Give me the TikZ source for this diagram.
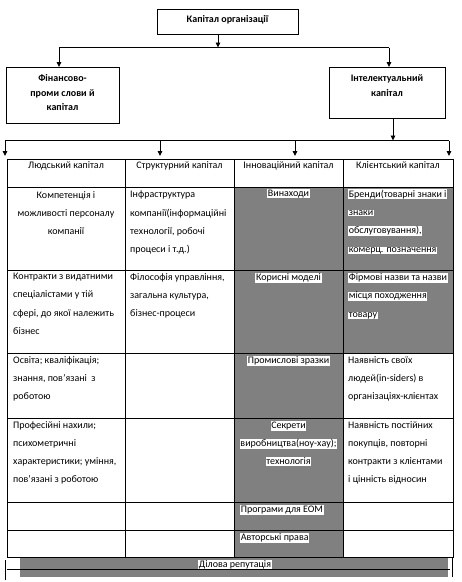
\documentclass[tikz,border=0pt]{standalone}
\usepackage{fontspec}
\setmainfont{Carlito}
\usetikzlibrary{arrows.meta}
\definecolor{cellgrey}{RGB}{128,128,128}
\newcommand{\hlw}[1]{{\setlength{\fboxsep}{0.6pt}\colorbox{white}{#1}}}
\begin{document}
\begin{tikzpicture}[x=1pt,y=-1pt,
  box/.style={draw,line width=0.9pt,inner sep=0,anchor=north west},
  arr/.style={line width=0.9pt,-{Triangle[width=4.5pt,length=5pt]}},
  ln/.style={line width=0.9pt},
  grid/.style={line width=1pt},
  txt/.style={inner sep=0,font=\fontsize{10}{18.3}\selectfont,text=black},
  txtl/.style={txt,anchor=north west,align=left},
  txtc/.style={txt,anchor=north,align=center},
  ttl/.style={inner sep=0,anchor=north,align=center,font=\fontsize{10}{14.5}\selectfont\bfseries},
]
\useasboundingbox (0,0) rectangle (462,582);

% top boxes
\node[box,minimum width=141pt,minimum height=25pt] (top) at (157,9) {};
\node[ttl] (toptxt) at (227.5,15.5) {Капітал організації};
\node[box,minimum width=113pt,minimum height=56pt] (fin) at (6,67) {};
\node[ttl] (fintxt) at (62.5,74.5) {Фінансово-\\проми слови й\\капітал};
\node[box,minimum width=116pt,minimum height=51pt] (int) at (329,67) {};
\node[ttl] (inttxt) at (387,74.5) {Інтелектуальний\\капітал};

% connectors
\coordinate (j1) at (218,47.5);
\coordinate (hl) at (59,47.5);
\coordinate (hr) at (389,47.5);
\draw[arr] (top.south -| j1) -- (j1);
\draw[ln] (hl) -- (hr);
\draw[arr] (hl) -- (hl |- fin.north);
\draw[arr] (hr) -- (hr |- int.north);

\coordinate (j2) at (393,140.5);
\coordinate (b1) at (5,140.5);
\coordinate (b2) at (160,140.5);
\coordinate (b3) at (295,140.5);
\coordinate (b4) at (449,140.5);
\coordinate (t1) at (5,156);
\coordinate (t2) at (160,156);
\coordinate (t3) at (295,156);
\coordinate (t4) at (449,156);
\draw[arr] (int.south -| j2) -- (j2);
\draw[ln] (b1) -- (b4);
\draw[arr] (b1) -- (t1);
\draw[arr] (b2) -- (t2);
\draw[arr] (b3) -- (t3);
\draw[arr] (b4) -- (t4);

% table fills
\fill[cellgrey] (234,187) rectangle (343,557);
\fill[cellgrey] (343,187) rectangle (453,353);
% bottom band
\fill[cellgrey] (20,557) rectangle (448,577);
\draw[ln] (7,569) -- (450,569);
\draw[line width=0.8pt] (5,560) -- (5,580);
\draw[line width=0.8pt] (452,558) -- (452,577);
\node[txt,anchor=north] (rep) at (235,559.5) {\hlw{Ділова репутація}};

% table grid
\draw[grid] (7,159) rectangle (453,557);
\foreach \x in {125,234,343} \draw[grid] (\x,159) -- (\x,557);
\foreach \y in {187,270,353,418,502,530} \draw[grid] (7,\y) -- (453,\y);

% header row
\node[txtc] (h1) at (66,161) {Людський капітал};
\node[txtc] (h2) at (179.5,161) {Структурний капітал};
\node[txtc] (h3) at (288.5,161) {Інноваційний капітал};
\node[txtc] (h4) at (398,161) {Клієнтський капітал};

% row 2
\node[txtc] (c12) at (66,191) {Компетенція і\\можливості персоналу\\компанії};
\node[txtl] (c22) at (130,191) {Інфраструктура\\компанії(інформаційні\\технології, робочі\\процеси і т.д.)};
\node[txtc] (c32) at (288.5,189) {\hlw{Винаходи}};
\node[txtl] (c42) at (348,189) {\hlw{Бренди(товарні знаки і}\\\hlw{знаки}\\\hlw{обслуговування),}\\\hlw{комерц. позначення}};

% row 3
\node[txtl] (c13) at (13,273) {Контракти з видатними\\спеціалістами у тій\\сфері, до якої належить\\бізнес};
\node[txtl] (c23) at (130,273) {Філософія управління,\\загальна культура,\\бізнес-процеси};
\node[txtc] (c33) at (288.5,273) {\hlw{Корисні моделі}};
\node[txtl] (c43) at (348,273) {\hlw{Фірмові назви та назви}\\\hlw{місця походження}\\\hlw{товару}};

% row 4
\node[txtl] (c14) at (13,356) {Освіта; кваліфікація;\\знання, пов’язані\ \ з\\роботою};
\node[txtc] (c34) at (288.5,356) {\hlw{Промислові зразки}};
\node[txtl] (c44) at (348,356) {Наявність своїх\\людей(in-siders) в\\організаціях-клієнтах};

% row 5
\node[txtl] (c15) at (13,421) {Професійні нахили;\\психометричні\\характеристики; уміння,\\пов’язані з роботою};
\node[txtc] (c35) at (288.5,421) {\hlw{Секрети}\\\hlw{виробництва(ноу-хау);}\\\hlw{технологія}};
\node[txtl] (c45) at (348,421) {Наявність постійних\\покупців, повторні\\контракти з клієнтами\\і цінність відносин};

% rows 6-7
\node[txtl] (c36) at (240,505) {\hlw{Програми для ЕОМ}};
\node[txtl] (c37) at (240,533) {\hlw{Авторські права}};
\end{tikzpicture}
\end{document}
